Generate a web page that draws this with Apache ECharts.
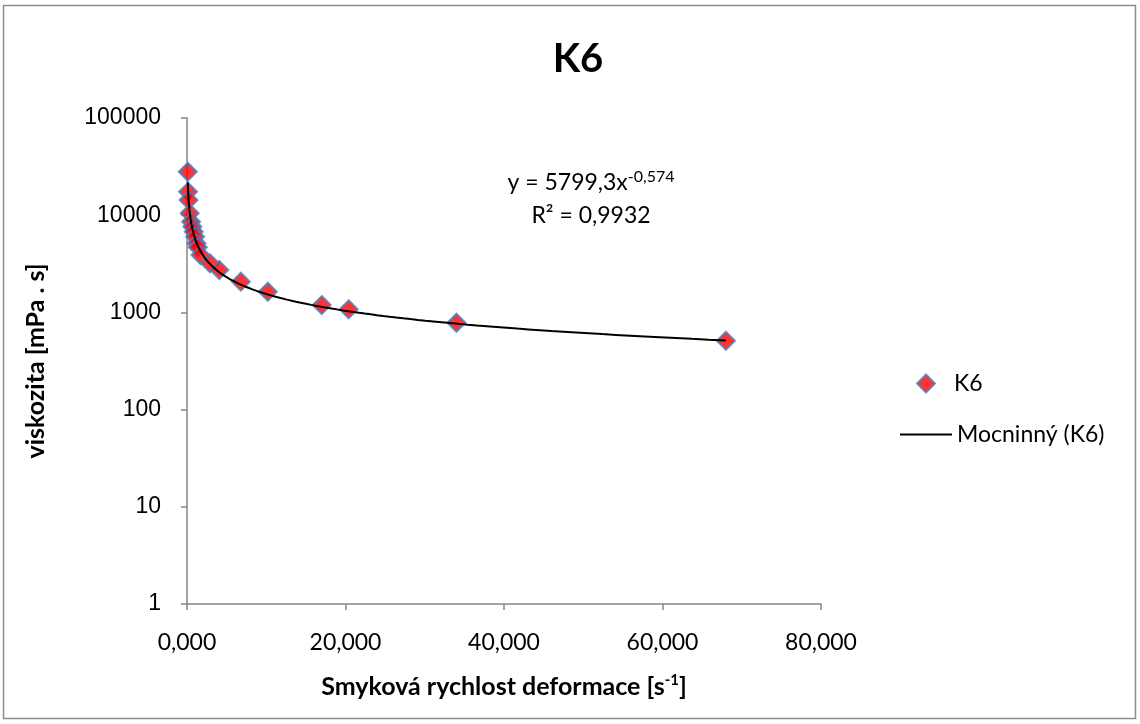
<!DOCTYPE html>
<html>
<head>
<meta charset="utf-8">
<script src="https://cdn.jsdelivr.net/npm/echarts@6/dist/echarts.min.js"></script>
<style>
html,body{margin:0;padding:0;background:#fff;}
#chart{width:1140px;height:724px;}
</style>
</head>
<body>
<div id="chart"></div>
<script>
// Measured data (shear rate [s^-1], viscosity [mPa.s])
const shearRate = [0.10, 0.136, 0.20, 0.34, 0.51, 0.68, 0.85, 1.02, 1.2, 1.36, 1.7, 2.9, 4.08, 6.8, 10.2, 17.0, 20.4, 34.0, 68.0];
const viscosity = [28000, 17400, 14300, 10500, 8570, 7620, 6770, 6010, 5140, 4680, 3890, 3200, 2730, 2070, 1630, 1190, 1076, 782, 511];
// Power trendline coefficients shown on chart
const FIT_A = 5799.3;
const FIT_B = -0.574;
const xTicks = [0, 20, 40, 60, 80];
const yTicks = [1, 10, 100, 1000, 10000, 100000];

const points = shearRate.map((x, i) => [x, viscosity[i]]);
const xMin = Math.min(...shearRate), xMax = Math.max(...shearRate);
const trend = [];
const N = 200;
for (let i = 0; i <= N; i++) {
  const x = xMin * Math.pow(xMax / xMin, i / N);
  trend.push([x, FIT_A * Math.pow(x, FIT_B)]);
}

const chart = echarts.init(document.getElementById('chart'));
const axisColor = '#868686';
const calib = 'Lato, "Open Sans", sans-serif';
chart.setOption({
  animation: false,
  backgroundColor: '#fff',
  title: {
    text: 'K6',
    left: 573, top: 34, textAlign: 'center',
    textStyle: { fontFamily: calib, fontWeight: 'bold', fontSize: 40, color: '#000' }
  },
  grid: { left: 187, top: 118, width: 634, height: 486, containLabel: false },
  legend: [
    {
      orient: 'vertical',
      left: 916, top: 372, padding: 0,
      itemWidth: 18, itemHeight: 18,
      textStyle: { fontFamily: calib, fontSize: 23, color: '#000', padding: [0, 0, 0, 14] },
      data: [{ name: 'K6', icon: 'diamond' }]
    },
    {
      orient: 'vertical',
      left: 900, top: 423, padding: 0,
      itemWidth: 52, itemHeight: 2,
      textStyle: { fontFamily: calib, fontSize: 23, color: '#000' },
      data: [{ name: 'Mocninný (K6)', icon: 'rect' }]
    }
  ],
  xAxis: {
    type: 'value',
    min: xTicks[0], max: xTicks[xTicks.length - 1], interval: 20,
    name: 'Smyková rychlost deformace [s{sup|-1}]',
    nameLocation: 'middle', nameGap: 69,
    nameTextStyle: {
      fontFamily: calib, fontWeight: 'bold', fontSize: 25, color: '#000',
      rich: { sup: { fontFamily: calib, fontWeight: 'bold', fontSize: 15, verticalAlign: 'top', padding: [0, 0, 12, 0] } }
    },
    axisLine: { show: true, onZero: false, lineStyle: { color: axisColor, width: 1.5 } },
    axisTick: { show: true, inside: false, length: 6, lineStyle: { color: axisColor, width: 1.5 } },
    splitLine: { show: false },
    axisLabel: {
      fontFamily: calib, fontSize: 23, color: '#000', margin: 27,
      formatter: v => v.toFixed(3).replace('.', ',')
    }
  },
  yAxis: {
    type: 'log', logBase: 10,
    min: yTicks[0], max: yTicks[yTicks.length - 1],
    name: 'viskozita [mPa . s]',
    nameLocation: 'middle', nameGap: 139,
    nameTextStyle: { fontFamily: calib, fontWeight: 'bold', fontSize: 25, color: '#000' },
    axisLine: { show: true, lineStyle: { color: axisColor, width: 1.5 } },
    axisTick: { show: true, inside: false, length: 6, lineStyle: { color: axisColor, width: 1.5 } },
    splitLine: { show: false },
    minorTick: { show: false },
    axisLabel: {
      fontFamily: '"Liberation Sans", Arial, sans-serif', fontSize: 23, color: '#000', margin: 26,
      formatter: v => String(Math.round(v))
    }
  },
  graphic: [
    {
      type: 'rect', silent: true, z: -1,
      shape: { x: 3.5, y: 5.5, width: 1132, height: 713 },
      style: { fill: 'none', stroke: '#8c8c8c', lineWidth: 1.5 }
    },
    {
      type: 'text', z: 10,
      style: {
        x: 591, y: 183, align: 'center', verticalAlign: 'middle',
        text: '{b|y = 5799,3x}{s|-0,574}',
        rich: {
          b: { fontFamily: calib, fontSize: 23, fill: '#000' },
          s: { fontFamily: calib, fontSize: 16, fill: '#000', verticalAlign: 'top', padding: [0, 0, 12, 0] }
        }
      }
    },
    {
      type: 'text', z: 10,
      style: {
        x: 591, y: 216, align: 'center', verticalAlign: 'middle',
        text: 'R² = 0,9932',
        font: '23px Lato, "Open Sans", sans-serif', fill: '#000'
      }
    }
  ],
  series: [
    {
      name: 'Mocninný (K6)',
      type: 'line',
      data: trend,
      symbol: 'none',
      smooth: false,
      lineStyle: { color: '#000', width: 2 },
      itemStyle: { color: '#000' },
      z: 3
    },
    {
      name: 'K6',
      type: 'scatter',
      data: points,
      symbol: 'diamond',
      symbolSize: 18,
      itemStyle: { color: '#ff0000', borderColor: '#4a7ebb', borderWidth: 2 },
      z: 2
    }
  ]
});
</script>
</body>
</html>
